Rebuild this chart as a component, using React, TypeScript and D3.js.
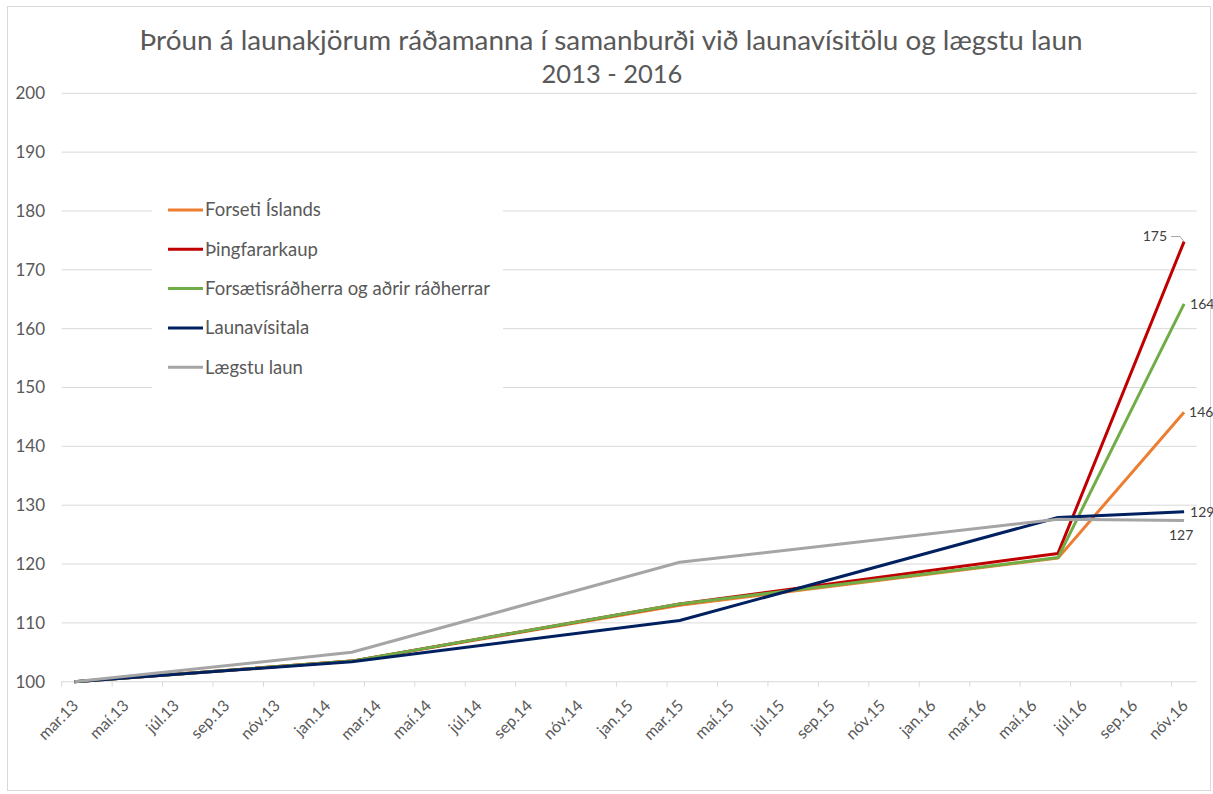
import * as d3 from "d3"

// months of the observations (Excel month-based date axis)
const months = ["2013-03", "2014-02", "2015-03", "2016-06", "2016-11"]

const forseti = [100, 103.5, 113.0, 121.0, 145.8]
const thingfararkaup = [100, 103.5, 113.2, 121.8, 174.8]
const radherrar = [100, 103.5, 113.2, 121.1, 164.2]
const launavisitala = [100, 103.4, 110.4, 127.9, 128.9]
const laegstuLaun = [100, 105.0, 120.3, 127.6, 127.4]

const endLabels = ["146", "175", "164", "129", "127"]

const xTickLabels = [
  "mar.13", "maí.13", "júl.13", "sep.13", "nóv.13",
  "jan.14", "mar.14", "maí.14", "júl.14", "sep.14", "nóv.14",
  "jan.15", "mar.15", "maí.15", "júl.15", "sep.15", "nóv.15",
  "jan.16", "mar.16", "maí.16", "júl.16", "sep.16", "nóv.16",
]

const seriesNames = [
  "Forseti Íslands",
  "Þingfararkaup",
  "Forsætisráðherra og aðrir ráðherrar",
  "Launavísitala",
  "Lægstu laun",
]
const seriesColors = ["#ED7D31", "#C00000", "#70AD47", "#002060", "#A5A5A5"]
const seriesValues = [forseti, thingfararkaup, radherrar, launavisitala, laegstuLaun]

const W = 1213
const H = 794
const FONT = "Lato, 'Open Sans', sans-serif"

const monthIndex = (s: string) => {
  const [yy, mm] = s.split("-").map(Number)
  return (yy - 2013) * 12 + (mm - 3)
}

export default function App() {
  const x = d3.scaleLinear().domain([0, 45]).range([61.7, 1196.7])
  const y = d3.scaleLinear().domain([100, 200]).range([681.7, 93.3])
  const yTicks = y.ticks(10)

  const line = d3
    .line<[string, number]>()
    .x((d) => x(monthIndex(d[0]) + 0.5))
    .y((d) => y(d[1]))

  const axisY = y(100)
  const last = months.length - 1
  const lastX = x(monthIndex(months[last]) + 0.5)

  return (
    <div style={{ position: "absolute", left: 0, top: 0 }}>
      <svg width={W} height={H} style={{ display: "block", background: "#fff" }}>
        <rect x={7.5} y={6.5} width={1203} height={784} fill="#fff" stroke="#d9d9d9" />

        {/* title */}
        <text
          x={611}
          y={50}
          textAnchor="middle"
          fontFamily={FONT}
          fontSize={26}
          fill="#595959"
          textLength={943}
          lengthAdjust="spacingAndGlyphs"
        >
          Þróun á launakjörum ráðamanna í samanburði við launavísitölu og lægstu laun
        </text>
        <text x={612} y={83} textAnchor="middle" fontFamily={FONT} fontSize={25.5} fill="#595959">
          2013 - 2016
        </text>

        {/* gridlines + y labels */}
        {yTicks.map((t) => (
          <g key={t}>
            <line x1={x(0)} x2={x(45)} y1={y(t)} y2={y(t)} stroke="#d9d9d9" strokeWidth={1} />
            <text
              x={45}
              y={y(t)}
              dy="0.35em"
              textAnchor="end"
              fontFamily={FONT}
              fontSize={17}
              fill="#595959"
            >
              {t}
            </text>
          </g>
        ))}

        {/* x ticks and labels */}
        {xTickLabels.map((lab, i) => {
          const xi = x(i * 2)
          const cx = x(i * 2 + 0.5)
          return (
            <g key={lab}>
              <line x1={xi} x2={xi} y1={axisY} y2={axisY + 5} stroke="#d9d9d9" />
              <text
                transform={`translate(${cx + 1},${axisY + 21}) rotate(-45)`}
                dy="0.35em"
                textAnchor="end"
                fontFamily={FONT}
                fontSize={16}
                fill="#595959"
              >
                {lab}
              </text>
            </g>
          )
        })}

        {/* legend */}
        <rect x={152} y={190} width={351} height={200} fill="#fff" />
        {seriesNames.map((name, i) => {
          const ly = 210 + i * 39.3
          return (
            <g key={name}>
              <line x1={168} x2={203} y1={ly} y2={ly} stroke={seriesColors[i]} strokeWidth={3} />
              <text x={205} y={ly} dy="0.35em" fontFamily={FONT} fontSize={18.5} fill="#595959">
                {name}
              </text>
            </g>
          )
        })}

        {/* series */}
        {seriesValues.map((vals, i) => (
          <path
            key={seriesNames[i]}
            d={line(months.map((m, j) => [m, vals[j]] as [string, number])) || ""}
            fill="none"
            stroke={seriesColors[i]}
            strokeWidth={3}
            strokeLinejoin="round"
          />
        ))}

        {/* end labels */}
        <g fontFamily={FONT} fontSize={14} fill="#404040">
          <text x={lastX + 5} y={y(forseti[last])} dy="0.35em">{endLabels[0]}</text>
          <text x={lastX - 17} y={y(thingfararkaup[last]) - 5} dy="0.35em" textAnchor="end">
            {endLabels[1]}
          </text>
          <path
            d={`M${lastX - 13},${y(thingfararkaup[last]) - 5} H${lastX - 4} L${lastX},${y(thingfararkaup[last])}`}
            fill="none"
            stroke="#a6a6a6"
            strokeWidth={1}
          />
          <text x={lastX + 6} y={y(radherrar[last])} dy="0.35em">{endLabels[2]}</text>
          <text x={lastX + 6} y={y(launavisitala[last])} dy="0.35em">{endLabels[3]}</text>
          <text x={lastX - 3} y={y(laegstuLaun[last]) + 15} dy="0.35em" textAnchor="middle">
            {endLabels[4]}
          </text>
        </g>
      </svg>
    </div>
  )
}
